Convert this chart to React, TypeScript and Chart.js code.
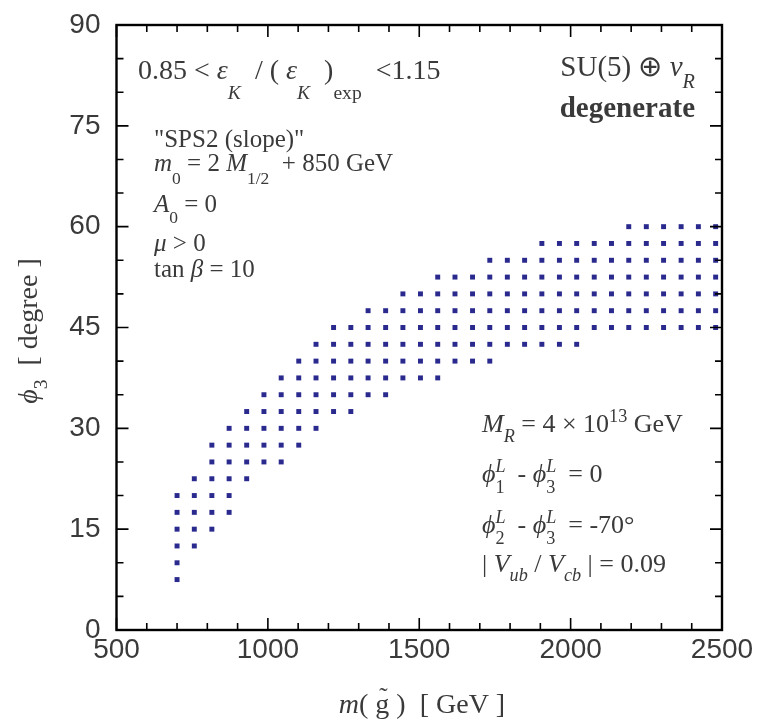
import React, { useEffect, useRef } from 'react';
import { Chart, registerables } from 'chart.js';

Chart.register(...registerables);

// gluino mass grid (GeV) of the scan columns
const gluinoMass = [
  700, 757, 815, 872, 930, 987, 1044, 1102, 1159, 1217, 1274, 1331, 1389, 1446, 1504, 1561,
  1618, 1676, 1733, 1791, 1848, 1905, 1963, 2020, 2078, 2135, 2192, 2250, 2307, 2365, 2422, 2479,
];

// allowed phi_3 values (degree) in each column
const phi3Allowed: number[][] = [
  [7.5, 10, 12.5, 15, 17.5, 20],
  [12.5, 15, 17.5, 20, 22.5],
  [15, 17.5, 20, 22.5, 25, 27.5],
  [17.5, 20, 22.5, 25, 27.5, 30],
  [22.5, 25, 27.5, 30, 32.5],
  [25, 27.5, 30, 32.5, 35],
  [25, 27.5, 30, 32.5, 35, 37.5],
  [27.5, 30, 32.5, 35, 37.5, 40],
  [30, 32.5, 35, 37.5, 40, 42.5],
  [32.5, 35, 37.5, 40, 42.5, 45],
  [32.5, 35, 37.5, 40, 42.5, 45],
  [35, 37.5, 40, 42.5, 45, 47.5],
  [35, 37.5, 40, 42.5, 45, 47.5],
  [37.5, 40, 42.5, 45, 47.5, 50],
  [37.5, 40, 42.5, 45, 47.5, 50],
  [37.5, 40, 42.5, 45, 47.5, 50, 52.5],
  [40, 42.5, 45, 47.5, 50, 52.5],
  [40, 42.5, 45, 47.5, 50, 52.5],
  [40, 42.5, 45, 47.5, 50, 52.5, 55],
  [42.5, 45, 47.5, 50, 52.5, 55],
  [42.5, 45, 47.5, 50, 52.5, 55],
  [42.5, 45, 47.5, 50, 52.5, 55, 57.5],
  [42.5, 45, 47.5, 50, 52.5, 55, 57.5],
  [42.5, 45, 47.5, 50, 52.5, 55, 57.5],
  [45, 47.5, 50, 52.5, 55, 57.5],
  [45, 47.5, 50, 52.5, 55, 57.5],
  [45, 47.5, 50, 52.5, 55, 57.5, 60],
  [45, 47.5, 50, 52.5, 55, 57.5, 60],
  [45, 47.5, 50, 52.5, 55, 57.5, 60],
  [45, 47.5, 50, 52.5, 55, 57.5, 60],
  [45, 47.5, 50, 52.5, 55, 57.5, 60],
  [45, 47.5, 50, 52.5, 55, 57.5, 60],
];

// styles: i = italic, b = bold, d = subscript, u = superscript, k = no advance, t = tilde above
type Seg = [string, string, number?];

const cutLine: Seg[] = [
  ['0.85 < ', ''], ['ε', 'i'], ['K', 'id', 20], ['  / ( ', ''], ['ε', 'i'], ['K', 'id', 20],
  ['  )', ''], ['exp', 'd', 20], ['  <1.15', ''],
];
const modelLine: Seg[] = [['SU(5) ⊕ ', ''], ['ν', 'i'], ['R', 'id', 12]];
const degLine: Seg[] = [['degenerate', 'b']];
const paramLines: Seg[][] = [
  [['"SPS2 (slope)"', '']],
  [['m', 'i'], ['0', 'd', 13], [' = 2 ', ''], ['M', 'i'], ['1/2', 'd', 13], ['  + 850 GeV', '']],
  [['A', 'i'], ['0', 'd', 11], [' = 0', '']],
  [['μ', 'i'], [' > 0', '']],
  [['tan ', ''], ['β', 'i'], [' = 10', '']],
];
const mixLines: Seg[][] = [
  [['M', 'i'], ['R', 'id', 10], [' = 4 × 10', ''], ['13', 'u', 10], [' GeV', '']],
  [['ϕ', 'i'], ['L', 'iuk', 10], ['1', 'd', 11], ['  - ', ''], ['ϕ', 'i'], ['L', 'iuk', 10], ['3', 'd', 11], ['  = 0', '']],
  [['ϕ', 'i'], ['L', 'iuk', 10], ['2', 'd', 11], ['  - ', ''], ['ϕ', 'i'], ['L', 'iuk', 10], ['3', 'd', 11], ['  = -70°', '']],
  [['| ', ''], ['V', 'i'], ['ub', 'id', 9], [' / ', ''], ['V', 'i'], ['cb', 'id', 9], [' | = 0.09', '']],
];
const xTitle: Seg[] = [['m', 'i'], ['( ', ''], ['g', 't'], [' )  [ GeV ]', '']];
const yTitle: Seg[] = [['ϕ', 'i'], ['3', 'd', 10], ['  [ degree ]', '']];

const SERIF = '"Liberation Serif", "Times New Roman", serif';
const SANS = '"Liberation Sans", Arial, sans-serif';
const INK = '#3a3a3a';

function drawRich(ctx: CanvasRenderingContext2D, segs: Seg[], x: number, y: number, size: number, align = 'left') {
  const fontFor = (st: string) => {
    const small = st.includes('d') || st.includes('u');
    return `${st.includes('i') ? 'italic ' : ''}${st.includes('b') ? 'bold ' : ''}${small ? size * 0.7 : size}px ${SERIF}`;
  };
  const adv = segs.map(([t, st]) => {
    ctx.font = fontFor(st);
    return st.includes('k') ? 0 : ctx.measureText(t).width;
  });
  const total = adv.reduce((a, b) => a + b, 0);
  let cx = align === 'right' ? x - total : align === 'center' ? x - total / 2 : x;
  segs.forEach(([t, st, dy], k) => {
    ctx.font = fontFor(st);
    let off = 0;
    if (st.includes('d')) off = dy ?? size * 0.42;
    if (st.includes('u')) off = -(dy ?? size * 0.42);
    ctx.fillText(t, cx, y + off);
    if (st.includes('t')) {
      const w = ctx.measureText(t).width;
      ctx.font = `${size * 0.9}px ${SERIF}`;
      const tw = ctx.measureText('˜').width;
      ctx.fillText('˜', cx + (w - tw) / 2 + 1, y - size * 0.28);
    }
    cx += adv[k];
  });
}

const framePlugin = {
  id: 'frame',
  afterDatasetsDraw(chart: any) {
    const { ctx, chartArea: a, scales } = chart;
    const x = scales.x;
    const y = scales.y;
    ctx.save();
    ctx.strokeStyle = '#000';
    ctx.lineWidth = 1.6;
    ctx.beginPath();
    for (let v = 500; v <= 2500; v += 100) {
      const px = x.getPixelForValue(v);
      const len = v % 500 === 0 ? 12 : 7;
      ctx.moveTo(px, a.bottom);
      ctx.lineTo(px, a.bottom - len);
      ctx.moveTo(px, a.top);
      ctx.lineTo(px, a.top + len);
    }
    for (let v = 0; v <= 90; v += 5) {
      const py = y.getPixelForValue(v);
      const len = v % 15 === 0 ? 12 : 7;
      ctx.moveTo(a.left, py);
      ctx.lineTo(a.left + len, py);
      ctx.moveTo(a.right, py);
      ctx.lineTo(a.right - len, py);
    }
    ctx.stroke();
    ctx.lineWidth = 2.4;
    ctx.strokeRect(a.left, a.top, a.right - a.left, a.bottom - a.top);
    ctx.restore();
  },
};

const textPlugin = {
  id: 'labels',
  afterDraw(chart: any) {
    const { ctx } = chart;
    ctx.save();
    ctx.fillStyle = INK;
    ctx.textBaseline = 'alphabetic';
    ctx.textAlign = 'left';
    drawRich(ctx, cutLine, 138, 79, 28);
    drawRich(ctx, modelLine, 695, 76, 29, 'right');
    drawRich(ctx, degLine, 695, 117, 29, 'right');
    const pBase = [147, 171, 212, 251, 277];
    paramLines.forEach((l, k) => drawRich(ctx, l, 154, pBase[k], 25));
    const mBase = [432, 482, 533, 572];
    mixLines.forEach((l, k) => drawRich(ctx, l, 482, mBase[k], 26));
    drawRich(ctx, xTitle, 422, 713, 28, 'center');
    ctx.translate(37, 331);
    ctx.rotate(-Math.PI / 2);
    drawRich(ctx, yTitle, 0, 0, 28, 'center');
    ctx.restore();
  },
};

export default function App() {
  const canvasRef = useRef<HTMLCanvasElement>(null);

  useEffect(() => {
    const points = gluinoMass.flatMap((m, k) => phi3Allowed[k].map((p) => ({ x: m, y: p })));
    const tickFont = { family: SANS, size: 28 };

    const chart = new Chart(canvasRef.current!, {
      type: 'scatter',
      data: {
        datasets: [
          {
            data: points,
            pointStyle: 'rect',
            pointRadius: 3.5,
            pointHoverRadius: 3.5,
            backgroundColor: '#2a2a8e',
            borderWidth: 0,
            clip: false,
          } as any,
        ],
      },
      options: {
        animation: false,
        responsive: false,
        events: [],
        layout: { padding: { top: 25, right: 35, left: 0, bottom: 0 } },
        plugins: { legend: { display: false }, tooltip: { enabled: false } },
        scales: {
          x: {
            type: 'linear',
            min: 500,
            max: 2500,
            ticks: {
              stepSize: 500,
              font: tickFont,
              color: INK,
              padding: 3,
              maxRotation: 0,
              callback: (v: any) => String(v),
            },
            grid: { display: false, drawTicks: false },
            border: { display: false },
            afterFit: (s: any) => {
              s.height = 92;
              s.paddingLeft = 0;
              s.paddingRight = 0;
            },
          },
          y: {
            min: 0,
            max: 90,
            ticks: { stepSize: 15, font: tickFont, color: INK, padding: 16, callback: (v: any) => String(v) },
            grid: { display: false, drawTicks: false },
            border: { display: false },
            afterFit: (s: any) => {
              s.width = 116.5;
              s.paddingTop = 0;
              s.paddingBottom = 0;
            },
          },
        },
      },
      plugins: [framePlugin, textPlugin],
    });

    return () => chart.destroy();
  }, []);

  return (
    <div style={{ position: 'fixed', left: 0, top: 0, width: 757, height: 722, background: '#fff' }}>
      <canvas ref={canvasRef} width={757} height={722} />
    </div>
  );
}
